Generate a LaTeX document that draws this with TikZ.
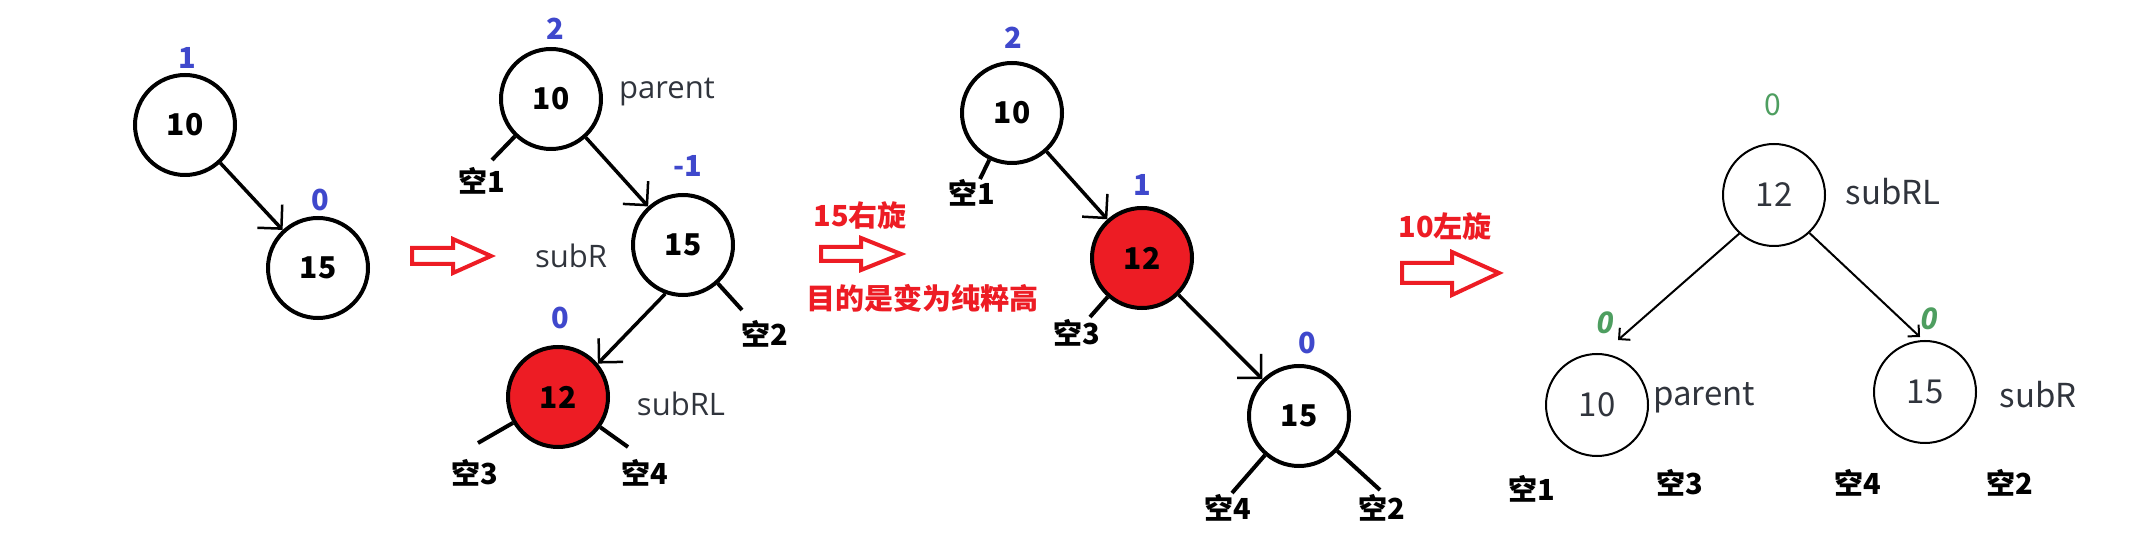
\documentclass[tikz,border=0pt]{standalone}
\usepackage{fontspec}
\setmainfont{Noto Sans CJK SC}
\newfontfamily\tagfont{Open Sans}
\usetikzlibrary{arrows.meta}
\definecolor{balblue}{RGB}{63,72,204}
\definecolor{markred}{RGB}{237,28,36}
\definecolor{balgreen}{RGB}{78,158,96}
\definecolor{tagtext}{RGB}{48,52,60}

\begin{document}
\begin{tikzpicture}[x=1pt, y=-1pt,
  knot/.style={circle, draw, line width=4pt, minimum size=100pt, inner sep=0pt,
    font=\bfseries\fontsize{30}{30}\selectfont},
  hotknot/.style={knot, fill=markred},
  lightknot/.style={circle, draw, line width=2pt, minimum size=102pt, inner sep=0pt,
    text=tagtext, font=\fontsize{33}{33}\selectfont},
  bal/.style={text=balblue, inner sep=0pt, font=\bfseries\fontsize{29}{29}\selectfont},
  newbal/.style={text=balgreen, inner sep=0pt, font=\fontsize{30}{30}\selectfont},
  newbalit/.style={text=balgreen, inner sep=0pt, font=\tagfont\bfseries\itshape\fontsize{30}{30}\selectfont},
  nil/.style={inner sep=0pt, font=\bfseries\fontsize{29}{29}\selectfont},
  tag/.style={text=tagtext, inner sep=0pt, font=\tagfont\fontsize{31}{31}\selectfont},
  lighttag/.style={text=tagtext, inner sep=0pt, font=\fontsize{33}{33}\selectfont},
  note/.style={text=markred, inner sep=0pt, font=\bfseries\fontsize{29}{29}\selectfont},
  edge/.style={line width=3.5pt, -{Straight Barb[length=17pt, width=34pt, line width=2.5pt]}},
  thinedge/.style={line width=2pt, -{Straight Barb[length=8pt, width=16pt]}},
  stub/.style={line width=4pt},
  fatarrow/.style={draw=markred, line width=4pt}]
  %
  \useasboundingbox (0,0) rectangle (2148,534);
  %
  % Start: 10 with right child 15
  \node[knot] (a10) at (185,125) {10};
  \node[knot] (a15) at (318,268) {15};
  \node[bal] (a10b) at (187,58) {1};
  \node[bal] (a15b) at (320,200) {0};
  \draw[edge] (a10) -- (a15);
  %
  \draw[fatarrow] (412,248) -- (453,248) -- (453,239) -- (491,256)
    -- (453,273) -- (453,264) -- (412,264) -- cycle;
  %
  % Insert 12 under 15
  \node[knot] (b10) at (551,99) {10};
  \node[knot] (b15) at (683,245) {15};
  \node[hotknot] (b12) at (558,397) {12};
  \node[bal] (b10b) at (555,29) {2};
  \node[bal] (b15b) at (688,166) {-1};
  \node[bal] (b12b) at (560,318) {0};
  \node[tag] (b10t) at (667,92) {parent};
  \node[tag] (b15t) at (571,256) {subR};
  \node[tag] (b12t) at (681,404) {subRL};
  \node[nil] (b1) at (482,181) {空1};
  \node[nil] (b2) at (765,334) {空2};
  \node[nil] (b3) at (475,473) {空3};
  \node[nil] (b4) at (645,473) {空4};
  \coordinate (b1s) at (492,160);
  \coordinate (b2s) at (742,310);
  \coordinate (b3s) at (478,443);
  \coordinate (b4s) at (628,447);
  \draw[edge] (b10) -- (b15);
  \draw[edge] (b15.250) -- (b12.40);
  \draw[stub] (b10) -- (b1s);
  \draw[stub] (b15) -- (b2s);
  \draw[stub] (b12) -- (b3s);
  \draw[stub] (b12) -- (b4s);
  %
  % Right rotation at 15
  \node[note] (rot15) at (860,215) {15右旋};
  \draw[fatarrow] (821,247) -- (861,247) -- (861,238) -- (901,254)
    -- (861,270) -- (861,261) -- (821,261) -- cycle;
  \node[note] (goal) at (922,298) {目的是变为纯粹高};
  %
  % After right rotation
  \node[knot] (c10) at (1012,113) {10};
  \node[hotknot] (c12) at (1142,258) {12};
  \node[knot] (c15) at (1299,416) {15};
  \node[bal] (c10b) at (1013,38) {2};
  \node[bal] (c12b) at (1142,185) {1};
  \node[bal] (c15b) at (1307,343) {0};
  \node[nil] (c1) at (972,193) {空1};
  \node[nil] (c3) at (1077,333) {空3};
  \node[nil] (c4) at (1228,508) {空4};
  \node[nil] (c2) at (1382,508) {空2};
  \coordinate (c1s) at (980,179);
  \coordinate (c3s) at (1090,317);
  \coordinate (c4s) at (1232,493);
  \coordinate (c2s) at (1380,490);
  \draw[edge] (c10) -- (c12);
  \draw[edge] (c12) -- (c15);
  \draw[stub] (c10) -- (c1s);
  \draw[stub] (c12) -- (c3s);
  \draw[stub] (c15) -- (c4s);
  \draw[stub] (c15) -- (c2s);
  %
  % Left rotation at 10
  \node[note] (rot10) at (1445,226) {10左旋};
  \draw[fatarrow] (1402,263) -- (1452,263) -- (1452,252) -- (1499,273)
    -- (1452,295) -- (1452,283) -- (1402,283) -- cycle;
  %
  % Balanced result
  \node[lightknot] (d12) at (1774,195) {12};
  \node[lightknot] (d10) at (1597,405) {10};
  \node[lightknot] (d15) at (1925,392) {15};
  \node[newbal] (d12b) at (1773,105) {0};
  \node[newbalit] (d10b) at (1605,323) {0};
  \node[newbalit] (d15b) at (1929,319) {0};
  \node[lighttag] (d12t) at (1893,192) {subRL};
  \node[lighttag] (d10t) at (1704,398) {parent};
  \node[lighttag] (d15t) at (2038,395) {subR};
  \node[nil] (d1) at (1532,489) {空1};
  \node[nil] (d3) at (1680,483) {空3};
  \node[nil] (d4) at (1858,483) {空4};
  \node[nil] (d2) at (2010,483) {空2};
  \coordinate (d10in) at (1618,340);
  \coordinate (d15in) at (1920,337);
  \draw[thinedge] (d12.228) -- (d10in);
  \draw[thinedge] (d12.313) -- (d15in);
\end{tikzpicture}
\end{document}
